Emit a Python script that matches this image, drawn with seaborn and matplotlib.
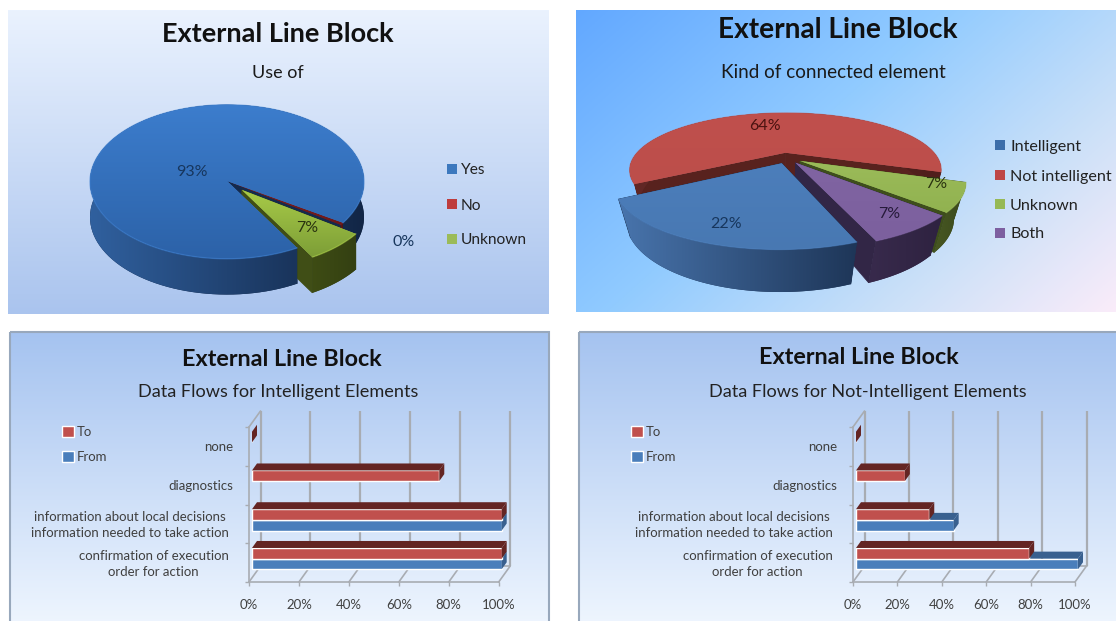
import numpy as np
import pandas as pd
import matplotlib
matplotlib.use("Agg")
import matplotlib.pyplot as plt
import seaborn as sns
from matplotlib.patches import Polygon, Rectangle
from matplotlib.transforms import Transform, Affine2D

# data
use_labels = ["Yes", "No", "Unknown"]
use_values = [93, 0.5, 7]
use_text = ["93%", "0%", "7%"]

kind_labels = ["Intelligent", "Not intelligent", "Unknown", "Both"]
kind_values = [22, 64, 7, 7]
kind_text = ["22%", "64%", "7%", "7%"]

flow_labels = ["none", "diagnostics",
               "information about local decisions\ninformation needed to take action",
               "confirmation of execution\norder for action"]
intel_to = [0, 75, 100, 100]
intel_from = [np.nan, np.nan, 100, 100]
notintel_to = [0, 22, 33, 78]
notintel_from = [np.nan, np.nan, 44, 100]
pct_ticks = [0, 20, 40, 60, 80, 100]

W, H = 1116, 621
FONT = "Lato"

sns.set_theme(style="white")
plt.rcParams["font.family"] = [FONT, "DejaVu Sans"]

fig = plt.figure(figsize=(W / 100, H / 100), dpi=100)
canvas = fig.add_axes([0, 0, 1, 1], zorder=0)
canvas.set_axis_off()
# texts go on their own layer above the pies
over = fig.add_axes([0, 0, 1, 1], zorder=5)
over.set_axis_off()
over.set_xlim(0, W)
over.set_ylim(H, 0)


def rgb(c):
    return np.array(c, dtype=float) / 255


def panel_bg(x0, y0, x1, y1, stops, diag=0.0, border=None):
    gx, gy = np.meshgrid(np.linspace(0, 1, 200), np.linspace(0, 1, 200))
    t = (gy + diag * gx) / (1 + diag)
    pos = [s[0] for s in stops]
    img = np.stack([np.interp(t, pos, [s[1][i] / 255 for s in stops]) for i in range(3)], axis=2)
    canvas.imshow(img, extent=(x0, x1, y1, y0), aspect="auto", zorder=1)
    if border:
        canvas.add_patch(Rectangle((x0, y0), x1 - x0, y1 - y0, fill=False, ec=border, lw=1.5, zorder=2))


panel_bg(8, 10, 549, 314, [(0, (234, 242, 254)), (1, (170, 196, 238))])
panel_bg(576, 10, 1116, 312, [(0, (98, 168, 255)), (0.42, (145, 203, 255)),
                              (0.75, (205, 225, 248)), (1, (250, 236, 250))], diag=1.6)
panel_bg(10, 332, 549, 640, [(0, (165, 195, 240)), (1, (242, 248, 255))], border="#98a8bc")
panel_bg(579, 332, 1130, 640, [(0, (165, 195, 240)), (1, (242, 248, 255))], border="#98a8bc")
canvas.set_xlim(0, W)
canvas.set_ylim(H, 0)


def label(x, y, s, size, weight="normal", color="#1a1a1a", ha="center"):
    over.text(x, y + 1.5, s, fontsize=size, fontweight=weight, color=color, ha=ha, va="center")


class Persp(Transform):
    input_dims = 2
    output_dims = 2

    def __init__(self, f, k, z):
        super().__init__()
        self.f, self.k, self.z = f, k, z

    def transform_non_affine(self, values):
        x, y = np.asarray(values, dtype=float).T
        s = self.f / (self.f + y + self.k * self.z)
        return np.column_stack([x * s, (y - self.z) * s])


def gradient(ax, patch, xy, c0, c1, horizontal, z):
    xmin, ymin = xy.min(axis=0)
    xmax, ymax = xy.max(axis=0)
    t = np.linspace(0, 1, 64)
    ramp = np.outer(1 - t, rgb(c0)) + np.outer(t, rgb(c1))
    img = ramp[None, :, :] if horizontal else ramp[:, None, :]
    im = ax.imshow(img, extent=(xmin, xmax, ymin, ymax), aspect="auto", zorder=z,
                   interpolation="bilinear", origin="upper")
    im.set_clip_path(patch)


def pie3d(values, colors, cx, cy, rx, ry, explode, start, depth, f, k, walls_first=False):
    ax = fig.add_axes([0, 0, 1, 1], zorder=1)
    ax.patch.set_alpha(0)
    wedges, _ = ax.pie(values, colors=[rgb(c["top0"]) for c in colors], explode=explode,
                       startangle=start, counterclock=False)
    ax.set_aspect("auto")
    ax.set_axis_off()
    top = Persp(f, k, 0)
    low = Persp(f, k, depth)
    # back to front, thin slices first when they share a centre
    order = sorted(range(len(wedges)), key=lambda i: (-wedges[i].center[1], wedges[i].theta2 - wedges[i].theta1))
    z = 2
    lift = 200 if walls_first else 0
    for i in order:
        w, c = wedges[i], colors[i]
        cen = np.array(w.center)
        th = np.radians(np.linspace(w.theta1, w.theta2, 120))
        rim = cen + w.r * np.column_stack([np.cos(th), np.sin(th)])
        rt, rl = top.transform(rim), low.transform(rim)
        for end in (rim[0], rim[-1]):
            face = np.vstack([top.transform(cen[None]), top.transform(end[None]),
                              low.transform(end[None]), low.transform(cen[None])])
            ax.add_patch(Polygon(face, fc=rgb(c["cut"]), ec=rgb(c["cut"]), lw=0.5,
                                 zorder=1 if walls_first else z))
        z += 1
        wall = np.vstack([rt, rl[::-1]])
        poly = Polygon(wall, fc=rgb(c["wall1"]), ec="none", zorder=z)
        ax.add_patch(poly)
        gradient(ax, poly, wall, c["wall0"], c["wall1"], True, z + 1)
        z += 2
        w.set_transform(top + ax.transData)
        w.set_zorder(z + lift)
        w.set_edgecolor("none")
        gradient(ax, w, top.transform(w.get_path().vertices), c["top0"], c["top1"], False, z + lift + 1)
        ax.plot(rt[:, 0], rt[:, 1], color=rgb(c["top0"]), lw=1, alpha=0.55, zorder=z + lift + 2)
        z += 3
    ax.set_xlim(-cx / rx, (W - cx) / rx)
    ax.set_ylim((cy - H) / ry, cy / ry)
    return ax


def swatches(x, ys, colors, names, tx, size):
    for y, c, name in zip(ys, colors, names):
        over.add_patch(Rectangle((x - 5, y - 5), 10, 10, fc=rgb(c), ec="none"))
        label(tx, y, name, size, ha="left", color="#222222")


# first pie
use_colors = [
    dict(top0=(60, 125, 205), top1=(44, 98, 168), wall0=(48, 96, 158), wall1=(18, 38, 70), cut=(20, 42, 78)),
    dict(top0=(125, 28, 28), top1=(110, 25, 25), wall0=(90, 25, 25), wall1=(70, 20, 20), cut=(70, 20, 20)),
    dict(top0=(168, 203, 72), top1=(125, 158, 55), wall0=(62, 76, 20), wall1=(52, 64, 18), cut=(64, 78, 22)),
]
pie3d(use_values, use_colors, 227, 181, 137, 77, [0, 0, 0.16], -59.5, 0.46, 100, 0, walls_first=True)
label(192, 170, use_text[0], 11.5, color="#17365d")
label(307, 226, use_text[2], 11.5, color="#2a3310")
label(404, 240, use_text[1], 11.5, color="#17365d")
swatches(452, [169, 204, 239], [(60, 120, 190), (190, 60, 60), (155, 187, 89)], use_labels, 461, 11.2)
label(278, 33, "External Line Block", 19.5, "bold", "#111111")
label(278, 72, "Use of", 13)

# second pie
kind_colors = [
    dict(top0=(76, 126, 187), top1=(72, 120, 178), wall0=(72, 116, 172), wall1=(30, 54, 88), cut=(30, 54, 88)),
    dict(top0=(192, 80, 77), top1=(188, 78, 74), wall0=(98, 40, 38), wall1=(80, 30, 28), cut=(88, 34, 30)),
    dict(top0=(155, 187, 89), top1=(145, 178, 80), wall0=(72, 88, 34), wall1=(58, 72, 28), cut=(62, 78, 28)),
    dict(top0=(128, 100, 162), top1=(124, 96, 158), wall0=(56, 42, 76), wall1=(46, 34, 64), cut=(50, 38, 70)),
]
pie3d(kind_values, kind_colors, 787, 158, 153, 55, [0.1] * 4, 290, 0.66, 3.2, 0.3)
label(726, 222, kind_text[0], 11.5, color="#17365d")
label(765, 124, kind_text[1], 11.5, color="#4a1210")
label(936, 182, kind_text[2], 11.5, color="#2a3310")
label(889, 212, kind_text[3], 11.5, color="#261a3a")
swatches(1000, [145, 175, 204, 233], [(60, 110, 170), (190, 70, 70), (150, 185, 85), (125, 95, 160)],
         kind_labels, 1010, 11.6)
label(838, 29, "External Line Block", 20.2, "bold", "#111111")
label(833, 71, "Kind of connected element", 13.6)


def bars3d(to_vals, from_vals, x0, x1, leg_x, title_x, title_y, sub_x, subtitle):
    top_px, bot_px = 427, 582
    ax = fig.add_axes([x0 / W, 1 - bot_px / H, (x1 - x0) / W, (bot_px - top_px) / H], zorder=2)
    ax.patch.set_alpha(0)
    df = pd.DataFrame({"flow": flow_labels, "To": to_vals, "From": from_vals})
    df = df.melt(id_vars="flow", var_name="direction", value_name="share").dropna()
    sns.barplot(data=df, x="share", y="flow", hue="direction", order=flow_labels, hue_order=["To", "From"],
                palette={"To": "#c0504d", "From": "#4a7ebb"}, saturation=1, width=0.55, gap=0, ax=ax)
    ax.set_xlim(0, 100)
    ax.set_ylim(3.5, -0.5)

    xpp = 100 / (x1 - x0)
    ypp = 4 / (bot_px - top_px)
    # bars sit part way into the floor, depth drawn as extra faces
    sx, sy = 3 * xpp, 4 * ypp
    dx, dy = 5 * xpp, 7 * ypp
    dark = {"To": "#642523", "From": "#39608f"}
    for container, name, z in zip(ax.containers, ["To", "From"], [4, 3]):
        for bar in container:
            bar.set_x(bar.get_x() + sx)
            bar.set_y(bar.get_y() - sy)
            bar.set_clip_on(False)
            bar.set_zorder(z)
            xa, xb = bar.get_x(), bar.get_x() + bar.get_width()
            ya, yb = bar.get_y(), bar.get_y() + bar.get_height()
            ax.add_patch(Polygon([(xa, ya), (xb, ya), (xb + dx, ya - dy), (xa + dx, ya - dy)],
                                 fc=dark[name], ec="none", zorder=z, clip_on=False))
            ax.add_patch(Polygon([(xb, ya), (xb, yb), (xb + dx, yb - dy), (xb + dx, ya - dy)],
                                 fc=dark[name], ec="none", zorder=z, clip_on=False))

    # back wall and floor
    grey = "#a8acb2"
    back = ax.transData + Affine2D().translate(11.5, 16)
    ax.vlines(pct_ticks, 3.5, -0.5, color=grey, lw=1.6, transform=back, clip_on=False, zorder=1)
    bx, by = 11.5 * xpp, 16 * ypp
    for t in pct_ticks:
        ax.plot([t, t + bx], [3.5, 3.5 - by], color=grey, lw=1.2, clip_on=False, zorder=1)
    ax.plot([0, bx], [-0.5, -0.5 - by], color=grey, lw=1.2, clip_on=False, zorder=1)
    ax.plot([bx, 100 + bx], [3.5 - by, 3.5 - by], color=grey, lw=1.2, clip_on=False, zorder=1)

    for side in ("top", "right"):
        ax.spines[side].set_visible(False)
    for side in ("left", "bottom"):
        ax.spines[side].set_color(grey)
        ax.spines[side].set_linewidth(1.2)
    ax.set_xlabel("")
    ax.set_ylabel("")
    ax.set_xticks(pct_ticks)
    ax.set_xticklabels([f"{t}%" for t in pct_ticks], fontsize=9.5, color="#404040")
    ax.set_yticks(range(len(flow_labels)))
    ax.set_yticklabels(flow_labels, fontsize=9.5, color="#404040", multialignment="center", linespacing=1.35)
    ax.set_yticks(np.arange(-0.5, 4), minor=True)
    ax.tick_params(axis="y", which="major", length=0, pad=11.5)
    ax.tick_params(axis="y", which="minor", left=True, length=3, width=1, color=grey)
    ax.tick_params(axis="x", bottom=True, length=3, width=1, color=grey, pad=9.5)
    # the two line labels stand a little further from the axis
    for tick_text in ax.get_yticklabels():
        if "\n" in tick_text.get_text():
            tick_text.set_transform(tick_text.get_transform() + Affine2D().translate(-4.5, 1.5))
    sns.move_legend(ax, loc="upper left", bbox_to_anchor=(leg_x / W, 1 - 414 / H), bbox_transform=fig.transFigure,
                    title=None, frameon=False, fontsize=9.5, handlelength=0.9, handleheight=0.9,
                    labelspacing=1.0, handletextpad=0.25, labelcolor="#404040")
    label(title_x, title_y, "External Line Block", 16.8, "bold", "#111111")
    label(sub_x, 390, subtitle, 13.1, color="#222222")
    return ax


bars3d(intel_to, intel_from, 249, 498.7, 50, 282, 358.5, 278, "Data Flows for Intelligent Elements")
bars3d(notintel_to, notintel_from, 853, 1075, 619, 859, 355.5, 868, "Data Flows for Not-Intelligent Elements")

fig.savefig("out.png", dpi=100)
